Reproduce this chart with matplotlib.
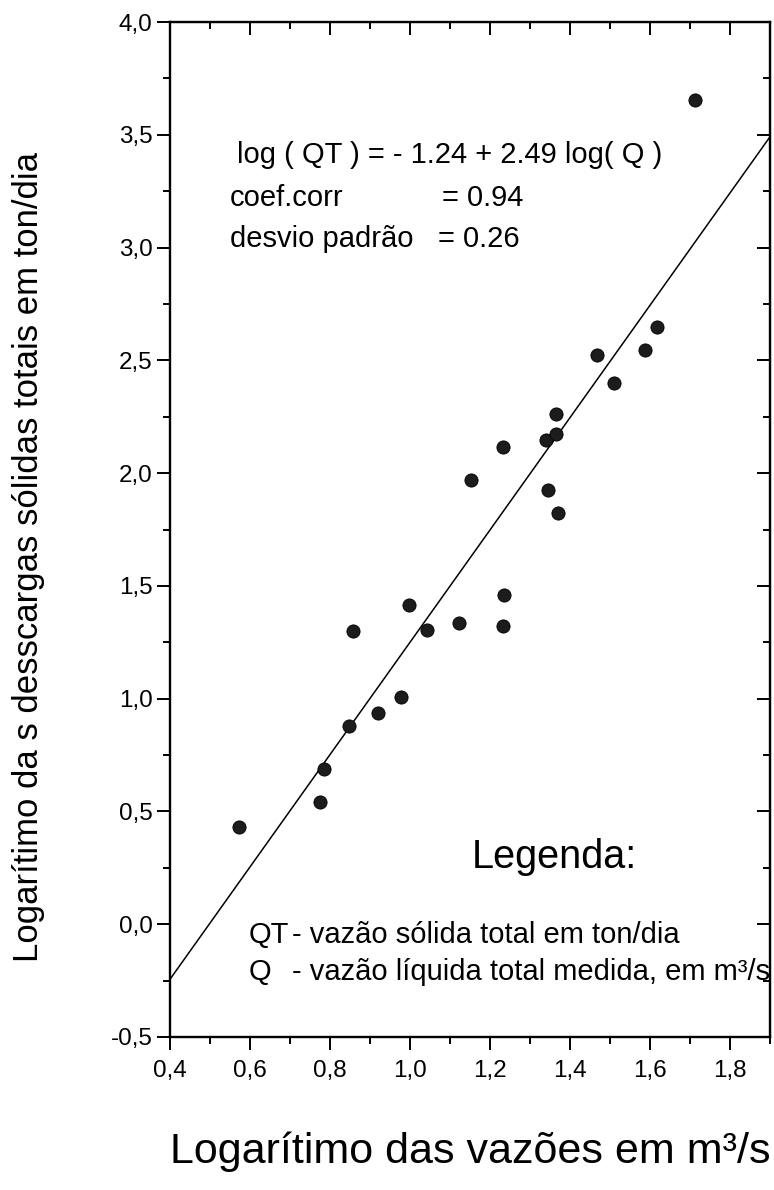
import matplotlib
matplotlib.use("Agg")
import matplotlib.pyplot as plt
from matplotlib.ticker import MultipleLocator, FuncFormatter
import numpy as np

plt.rcParams['font.family'] = ['Liberation Sans', 'DejaVu Sans']

# log das vazoes liquidas (x) e log das descargas solidas (y)
log_q = [0.572, 0.774, 0.786, 0.848, 0.858, 0.921, 0.978, 0.998, 1.043, 1.122,
         1.152, 1.232, 1.232, 1.234, 1.339, 1.344, 1.364, 1.366, 1.371, 1.468,
         1.510, 1.588, 1.618, 1.713]
log_qt = [0.431, 0.542, 0.688, 0.879, 1.300, 0.936, 1.007, 1.415, 1.304, 1.335,
          1.969, 1.320, 2.115, 1.459, 2.146, 1.925, 2.261, 2.173, 1.823, 2.523,
          2.399, 2.545, 2.647, 3.653]

# regressao
intercept = -1.24
slope = 2.49
coef_corr = 0.94
desvio = 0.26

x_lim = (0.4, 1.9)
y_lim = (-0.5, 4.0)

fig = plt.figure(figsize=(7.74, 11.9), dpi=100)
ax = fig.add_axes([170 / 774, 1 - 1037 / 1190, 600 / 774, 1015 / 1190])

ax.plot(log_q, log_qt, 'o', color='#1c1c1c', ms=9.5, mec='#000000', mew=0.6, zorder=3)

xl = np.array(x_lim)
ax.plot(xl, intercept + slope * xl, color='black', lw=1.1, zorder=2)

ax.set_xlim(*x_lim)
ax.set_ylim(*y_lim)

comma = FuncFormatter(lambda v, p: ('%.1f' % v).replace('.', ','))
ax.xaxis.set_major_locator(MultipleLocator(0.2))
ax.xaxis.set_minor_locator(MultipleLocator(0.1))
ax.yaxis.set_major_locator(MultipleLocator(0.5))
ax.yaxis.set_minor_locator(MultipleLocator(0.25))
ax.xaxis.set_major_formatter(comma)
ax.yaxis.set_major_formatter(comma)

for s in ax.spines.values():
    s.set_linewidth(1.7)

ax.tick_params(which='major', direction='out', length=9.5, width=1.4, labelsize=17.5)
ax.tick_params(which='minor', direction='out', length=5, width=1.4)
ax.tick_params(axis='x', pad=7)
ax.tick_params(axis='y', pad=3)

# ticks espelhados para dentro no topo e a direita
top = ax.secondary_xaxis('top')
top.xaxis.set_major_locator(MultipleLocator(0.2))
top.xaxis.set_minor_locator(MultipleLocator(0.1))
top.tick_params(which='major', direction='in', length=9.5, width=1.4, labeltop=False)
top.tick_params(which='minor', direction='in', length=5, width=1.4)
right = ax.secondary_yaxis('right')
right.yaxis.set_major_locator(MultipleLocator(0.5))
right.yaxis.set_minor_locator(MultipleLocator(0.25))
right.tick_params(which='major', direction='in', length=9.5, width=1.4, labelright=False)
right.tick_params(which='minor', direction='in', length=5, width=1.4)

# textos da regressao
eq = 'log ( QT ) = - %.2f + %.2f log( Q )' % (-intercept, slope)
ax.text(0.5675, 3.41, eq, fontsize=21, va='center', ha='left')
ax.text(0.55, 3.22, 'coef.corr', fontsize=21, va='center', ha='left')
ax.text(1.08, 3.22, '= %.2f' % coef_corr, fontsize=21, va='center', ha='left')
ax.text(0.55, 3.04, 'desvio padrão', fontsize=21, va='center', ha='left')
ax.text(1.07, 3.04, '= %.2f' % desvio, fontsize=21, va='center', ha='left')

# legenda
ax.text(1.155, 0.30, 'Legenda:', fontsize=28.5, va='center', ha='left')
ax.text(0.5975, -0.048, 'QT', fontsize=21, va='center', ha='left')
ax.text(0.705, -0.048, '- vazão sólida total em ton/dia', fontsize=21, va='center', ha='left')
ax.text(0.5975, -0.212, 'Q', fontsize=21, va='center', ha='left')
ax.text(0.705, -0.212, '- vazão líquida total medida, em m³/s', fontsize=21, va='center', ha='left')

fig.text(29 / 774, 1 - 557 / 1190, 'Logarítimo da s desscargas sólidas totais em ton/dia',
         rotation=90, fontsize=25, ha='center', va='center')
fig.text(470 / 774, 1 - 1152 / 1190, 'Logarítimo das vazões em m³/s',
         fontsize=31, ha='center', va='center')

fig.savefig('out.png', dpi=100)
